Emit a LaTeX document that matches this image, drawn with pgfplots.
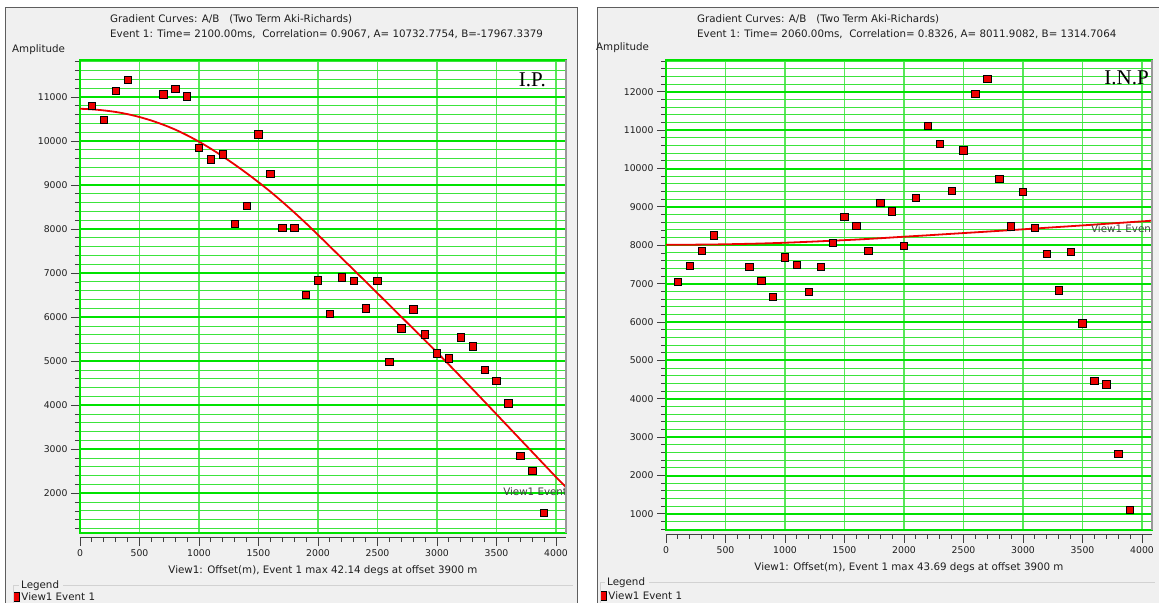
\documentclass[border=0pt]{standalone}
\usepackage{pgfplots}
\usepackage{pgfplotstable}
\pgfplotsset{compat=1.18}
\usepackage{fontspec}
\setmainfont{DejaVu Sans}
\newfontfamily\tagfont{Liberation Serif}

\definecolor{winbg}{HTML}{F0F0F0}
\definecolor{framegray}{HTML}{5E5E5E}
\definecolor{boxgray}{HTML}{D2D2D2}
\definecolor{gmaj}{RGB}{0,226,0}
\definecolor{gmin}{RGB}{60,228,60}
\definecolor{gver}{RGB}{90,232,90}
\definecolor{ptred}{RGB}{236,0,0}
\definecolor{txt}{HTML}{1E1E1E}

\newcommand\tickfont{\fontsize{9.3bp}{11bp}\selectfont}
\newcommand\uifont{\fontsize{10.3bp}{12bp}\selectfont}

% Event 1, I.P. gather: measured amplitudes and the A/B gradient curve
\pgfplotstableread{
x y
100 10800
200 10475
300 11140
400 11390
700 11060
800 11180
900 11010
1000 9840
1100 9580
1200 9700
1300 8120
1400 8530
1500 10150
1600 9260
1700 8030
1800 8030
1900 6500
2000 6840
2100 6070
2200 6900
2300 6820
2400 6200
2500 6820
2600 4990
2700 5750
2800 6180
2900 5610
3000 5180
3100 5060
3200 5540
3300 5340
3400 4810
3500 4560
3600 4040
3700 2850
3800 2510
3900 1550
}\ipdata

\pgfplotstableread{
x y
0 10733
100 10720
200 10695
300 10660
400 10610
500 10545
600 10465
700 10370
800 10260
900 10130
1000 9985
1100 9825
1200 9650
1300 9465
1400 9270
1500 9065
1600 8850
1700 8620
1800 8380
1900 8130
2000 7870
2200 7340
2400 6810
2600 6275
2800 5740
3000 5200
3200 4645
3400 4080
3600 3510
3800 2940
4000 2370
4084 2140
}\ipfit

% Event 1, I.N.P. gather
\pgfplotstableread{
x y
100 7040
200 7460
300 7860
400 8260
700 7440
800 7070
900 6650
1000 7690
1100 7490
1200 6790
1300 7440
1400 8060
1500 8740
1600 8510
1700 7860
1800 9110
1900 8880
2000 7980
2100 9240
2200 11120
2300 10640
2400 9420
2500 10470
2600 11940
2700 12340
2800 9730
2900 8490
3000 9390
3100 8460
3200 7780
3300 6820
3400 7830
3500 5960
3600 4460
3700 4380
3800 2560
3900 1110
}\inpdata

\pgfplotstableread{
x y
0 8012
200 8016
400 8022
600 8033
800 8047
1000 8067
1200 8092
1400 8120
1600 8150
1800 8185
2000 8224
2200 8261
2400 8300
2600 8338
2800 8377
3000 8417
3200 8458
3400 8498
3600 8540
3800 8582
4000 8624
4084 8641
}\inpfit

\pgfplotsset{
  gradcurve/.style={
    scale only axis, width=486bp,
    axis background/.style={fill=white},
    axis line style={draw=gmaj, line width=1.6bp},
    xmin=0, xmax=4084,
    xtick={0,500,...,4000}, minor xtick={100,200,...,4000},
    scaled x ticks=false, scaled y ticks=false,
    xmajorgrids, ymajorgrids, yminorgrids,
    major x grid style={draw=gver, line width=1.3bp},
    major y grid style={draw=gmaj, line width=2bp},
    minor y grid style={draw=gmin, line width=1bp},
    tick align=outside, xtick pos=bottom, ytick pos=left,
    major tick length=9bp, minor tick length=5bp,
    tick style={draw=black!75, line width=0.9bp},
    xtick style={yshift=-4bp},
    xticklabel style={yshift=-4bp},
    ticklabel style={font=\tickfont, text=txt},
    /pgf/number format/1000 sep={},
    /pgf/number format/assume math mode=true,
    legend style={draw=none, fill=none, inner sep=0pt, font=\uifont,
      text=txt, cells={anchor=west}},
    legend image code/.code={\filldraw[fill=ptred, draw=black, line width=0.8bp]
      (0bp,-4.5bp) rectangle (5.5bp,4.5bp);},
  },
  fitline/.style={ptred, line width=1.8bp, smooth, forget plot},
  samples/.style={only marks, mark=square*, mark size=3.7bp,
    mark options={fill=ptred, draw=black, line width=0.8bp}},
}

\begin{document}
\begin{tikzpicture}
\clip (0bp,0bp) rectangle (1159bp,603bp);
\fill[white] (0bp,0bp) rectangle (1159bp,603bp);

% two viewer windows
\fill[winbg] (5.7bp,0bp) rectangle (577.3bp,595.3bp);
\draw[framegray, line width=1.4bp] (5.7bp,0bp) -- (5.7bp,595.3bp) -- (577.3bp,595.3bp) -- (577.3bp,0bp);
\fill[winbg] (597.7bp,0bp) rectangle (1159bp,595.3bp);
\draw[framegray, line width=1.4bp] (597.7bp,0bp) -- (597.7bp,595.3bp) -- (1159bp,595.3bp);

% ---------- left window: I.P. ----------
\begin{axis}[gradcurve, at={(80bp,70bp)}, anchor=south west, height=473bp,
  ymin=1100, ymax=11840,
  ytick={2000,3000,...,11000}, minor ytick={1200,1400,...,11800},
  legend style={at={(axis description cs:-0.1379,-0.1353)}, anchor=west}]
\addplot[fitline] table {\ipfit};
\addplot[samples] table {\ipdata};
\addlegendentry{View1 Event 1}
\node[overlay, anchor=west, font=\uifont, text=black!75, inner sep=0] at (axis cs:3555,2030) {View1 Event 1};
\end{axis}
\begin{scope}[x=1bp, y=1bp]
\draw[black!40, line width=1.2bp] (566,70) -- (566,543);
\node[anchor=west, font=\uifont, text=txt, inner sep=0] at (110,584) {Gradient Curves: A/B\ \ \ (Two Term Aki-Richards)};
\node[anchor=west, font=\uifont, text=txt, inner sep=0] at (110,569) {Event 1: Time= 2100.00ms,\ \ Correlation= 0.9067, A= 10732.7754, B=-17967.3379};
\node[anchor=west, font=\uifont, text=txt, inner sep=0] at (12,553) {Amplitude};
\draw[black!75, line width=0.9bp] (79.5,66) -- (566,66);
\node[anchor=east, font=\fontsize{21bp}{24bp}\selectfont\tagfont, inner sep=0] at (546,523) {I.P.};
\node[font=\uifont, text=txt, inner sep=0] at (323,32) {View1: Offset(m), Event 1 max 42.14 degs at offset 3900 m};
\draw[boxgray, line width=1bp] (13,0) -- (13,17) -- (19,17);
\draw[boxgray, line width=1bp] (63,17) -- (573,17);
\node[anchor=west, font=\uifont, text=txt, inner sep=0] at (21,17) {Legend};
\end{scope}

% ---------- right window: I.N.P ----------
\begin{axis}[gradcurve, at={(666bp,73bp)}, anchor=south west, height=470bp,
  ymin=580, ymax=12830,
  ytick={1000,2000,...,12000}, minor ytick={600,800,...,12800},
  legend style={at={(axis description cs:-0.1358,-0.1404)}, anchor=west}]
\addplot[fitline] table {\inpfit};
\addplot[samples] table {\inpdata};
\addlegendentry{View1 Event 1}
\node[overlay, anchor=west, font=\uifont, text=black!75, inner sep=0] at (axis cs:3571,8430) {View1 Event 1};
\end{axis}
\begin{scope}[x=1bp, y=1bp]
\draw[black!40, line width=1.2bp] (1152,73) -- (1152,543);
\node[anchor=west, font=\uifont, text=txt, inner sep=0] at (697,584) {Gradient Curves: A/B\ \ \ (Two Term Aki-Richards)};
\node[anchor=west, font=\uifont, text=txt, inner sep=0] at (697,569) {Event 1: Time= 2060.00ms,\ \ Correlation= 0.8326, A= 8011.9082, B= 1314.7064};
\node[anchor=west, font=\uifont, text=txt, inner sep=0] at (596,555) {Amplitude};
\draw[black!75, line width=0.9bp] (665.5,69) -- (1152,69);
\node[anchor=east, font=\fontsize{21bp}{24bp}\selectfont\tagfont, inner sep=0] at (1149,525) {I.N.P};
\node[font=\uifont, text=txt, inner sep=0] at (909,35) {View1: Offset(m), Event 1 max 43.69 degs at offset 3900 m};
\draw[boxgray, line width=1bp] (600,0) -- (600,20) -- (605,20);
\draw[boxgray, line width=1bp] (649,20) -- (1155,20);
\node[anchor=west, font=\uifont, text=txt, inner sep=0] at (607,20) {Legend};
\end{scope}
\end{tikzpicture}
\end{document}
